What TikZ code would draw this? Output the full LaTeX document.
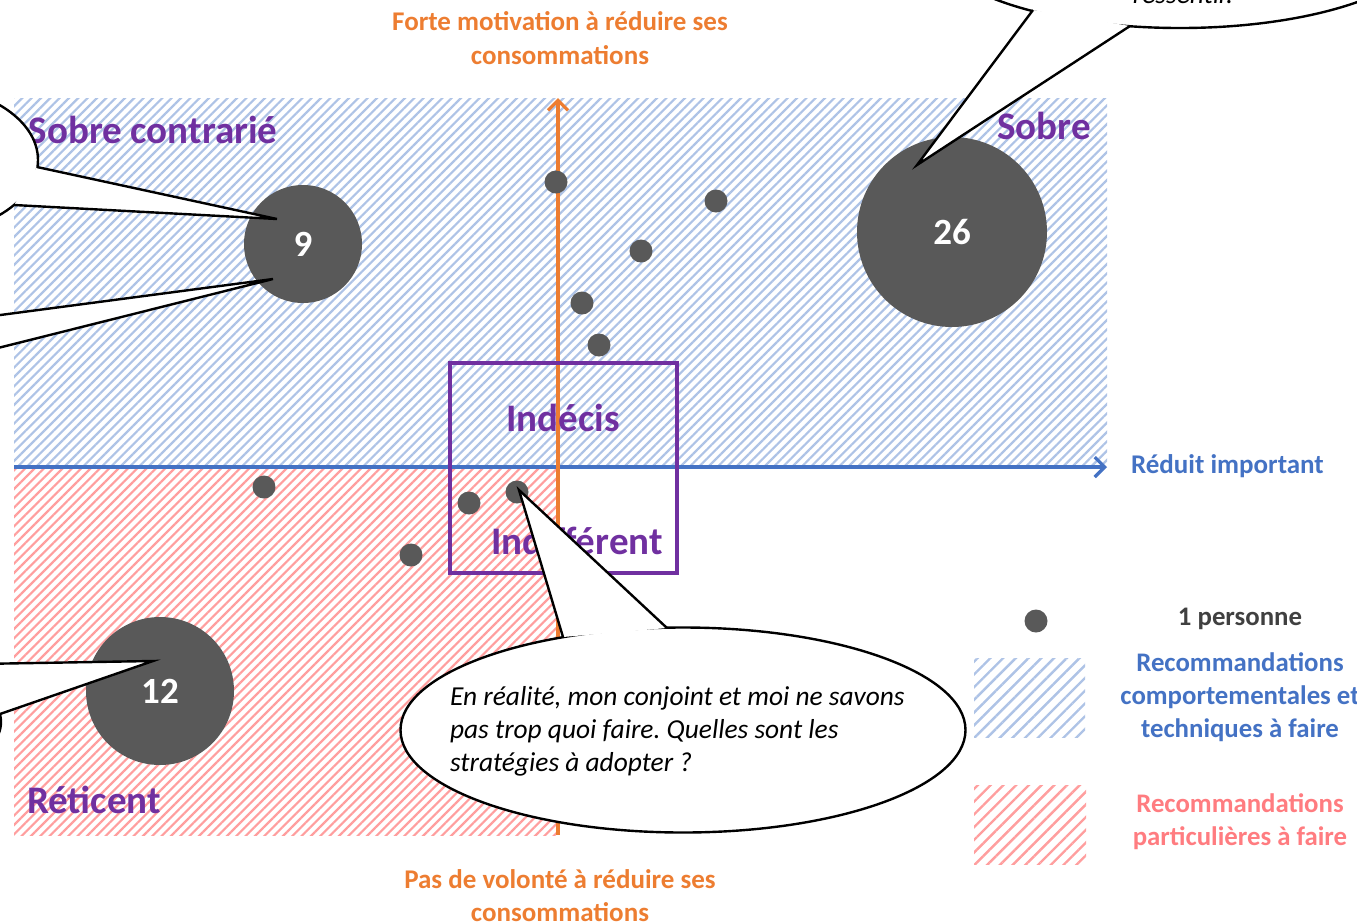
\documentclass[tikz,border=0pt]{standalone}
\usepackage{fontspec}
\setmainfont{Carlito}
\usetikzlibrary{arrows.meta,patterns.meta}

\definecolor{axeblue}{HTML}{4472C4}
\definecolor{axeorange}{HTML}{ED7D31}
\definecolor{catviolet}{HTML}{7030A0}
\definecolor{dotgray}{HTML}{595959}
\definecolor{hatchblue}{HTML}{AEC3E6}
\definecolor{hatchred}{HTML}{FF9E9E}
\definecolor{legred}{HTML}{FF7C80}
\definecolor{legtext}{HTML}{404040}

\begin{document}
\frenchspacing
\begin{tikzpicture}
	[x=0.5pt, y=-0.5pt,
	cat/.style={text=catviolet, font=\fontsize{19.5}{22}\selectfont\bfseries},
	axelabel/.style={text=axeorange, align=center,
		font=\fontsize{13.5}{16.6}\selectfont\bfseries},
	leglabel/.style={align=center, font=\fontsize{13.4}{16.5}\selectfont\bfseries},
	person/.style={circle, fill=dotgray, inner sep=0pt, minimum size=11.5pt},
	group/.style={circle, fill=dotgray, inner sep=0pt, text=white,
		font=\fontsize{18.5}{20}\selectfont\bfseries, minimum size=#1},
	bubble/.style={fill=white, draw=black, line width=1.2pt},
	bubbletext/.style={align=left, font=\fontsize{13.7}{16.5}\selectfont\itshape},
	bluehatch/.style={pattern={Lines[angle=45,distance=3.3pt,line width=1.1pt]},
		pattern color=hatchblue},
	redhatch/.style={pattern={Lines[angle=45,distance=3.3pt,line width=1.1pt]},
		pattern color=hatchred},
	axis/.style={line width=1.6pt, -{Straight Barb[length=5pt,width=10pt]}}]
	
	\useasboundingbox (0,0) rectangle (1357,923);
	\clip (0,0) rectangle (1357,923);
	
	% quadrants
	\fill[bluehatch] (14,98) rectangle (1107,467);
	\fill[redhatch] (14,467) rectangle (556,835);
	
	% axes
	\coordinate (xorig) at (14,467);
	\coordinate (xend) at (1107,467);
	\coordinate (yorig) at (558,835);
	\coordinate (yend) at (558,98);
	\draw[axis, axeblue] (xorig) -- (xend);
	\draw[axis, axeorange] (yorig) -- (yend);
	
	\node[axelabel] (forte) at (560,38) {Forte motivation à réduire ses\\consommations};
	\node[axelabel] (pasvol) at (560,896) {Pas de volonté à réduire ses\\consommations};
	\node[axelabel, text=axeblue, anchor=west] (reduit) at (1124,466) {Réduit important};
	
	% undecided box
	\draw[catviolet, line width=2pt] (450,363) rectangle (677,573);
	
	% categories
	\node[cat] (sobrec) at (153,130) {Sobre contrarié};
	\node[cat] (sobre) at (1044,126) {Sobre};
	\node[cat] (indecis) at (563,418) {Indécis};
	\node[cat] (indiff) at (577,541) {Indifférent};
	\node[cat] (reticent) at (94,800) {Réticent};
	
	% people
	\foreach \px/\py in {556/182, 716/201, 641/251, 582/303, 599/345,
		264/487, 469/503, 517/492, 411/555}
		\node[person] at (\px,\py) {};
	\node[group=59pt] (g9) at (303,244) {9};
	\node[group=95pt] (g26) at (952,232) {26};
	\node[group=74pt] (g12) at (160,691) {12};
	
	% legend
	\node[person] (legdot) at (1036,621) {};
	\node[leglabel, text=legtext] (legpers) at (1240,619) {1 personne};
	\fill[pattern={Lines[angle=45,distance=4.5pt,line width=1.2pt]}, pattern color=hatchblue]
		(974,658) rectangle (1085,737);
	\fill[pattern={Lines[angle=45,distance=4.5pt,line width=1.2pt]}, pattern color=hatchred]
		(974,785) rectangle (1086,864);
	\node[leglabel, text=axeblue] (legblue) at (1240,697)
		{Recommandations\\comportementales et\\techniques à faire};
	\node[leglabel, text=legred] (legred) at (1240,822)
		{Recommandations\\particulières à faire};
	
	% callouts
	\coordinate (tipa) at (277,219);
	\coordinate (tipb) at (273,279);
	\coordinate (tipc) at (153,661);
	\coordinate (tipd) at (519,490);
	\coordinate (tipe) at (917,165);
	
	\draw[bubble] (-82,160) ellipse [x radius=120, y radius=75];
	\fill[white] (37,167) -- (tipa) -- (14,205) -- cycle;
	\draw[line width=1.2pt] (37,167) -- (tipa) -- (14,205);
	
	\fill[white] (-30,319) -- (tipb) -- (-30,355) -- cycle;
	\draw[line width=1.2pt] (-30,319) -- (tipb) -- (-30,355);
	
	\draw[bubble] (-120,722) ellipse [x radius=121, y radius=60];
	\fill[white] (-82,665) -- (tipc) -- (0,714) -- cycle;
	\draw[line width=1.2pt] (-82,665) -- (tipc) -- (0,714);
	
	\draw[bubble] (1180,-60) ellipse [x radius=250, y radius=88];
	\fill[white] (1033,10) -- (tipe) -- (1130,26) -- cycle;
	\draw[line width=1.2pt] (1033,10) -- (tipe) -- (1130,26);
	\node[bubbletext, anchor=base] (ressentir) at (1183,3) {ressentir.};
	
	\draw[bubble] (683,730) ellipse [x radius=282.5, y radius=102.5];
	\fill[white] (563,637) -- (tipd) -- (667,628) -- cycle;
	\draw[line width=1.2pt] (563,637) -- (tipd) -- (667,628);
	\node[bubbletext, anchor=west] (conjoint) at (443,731)
		{En réalité, mon conjoint et moi ne savons\\pas trop quoi faire. Quelles sont les\\stratégies à adopter ?};
\end{tikzpicture}
\end{document}
